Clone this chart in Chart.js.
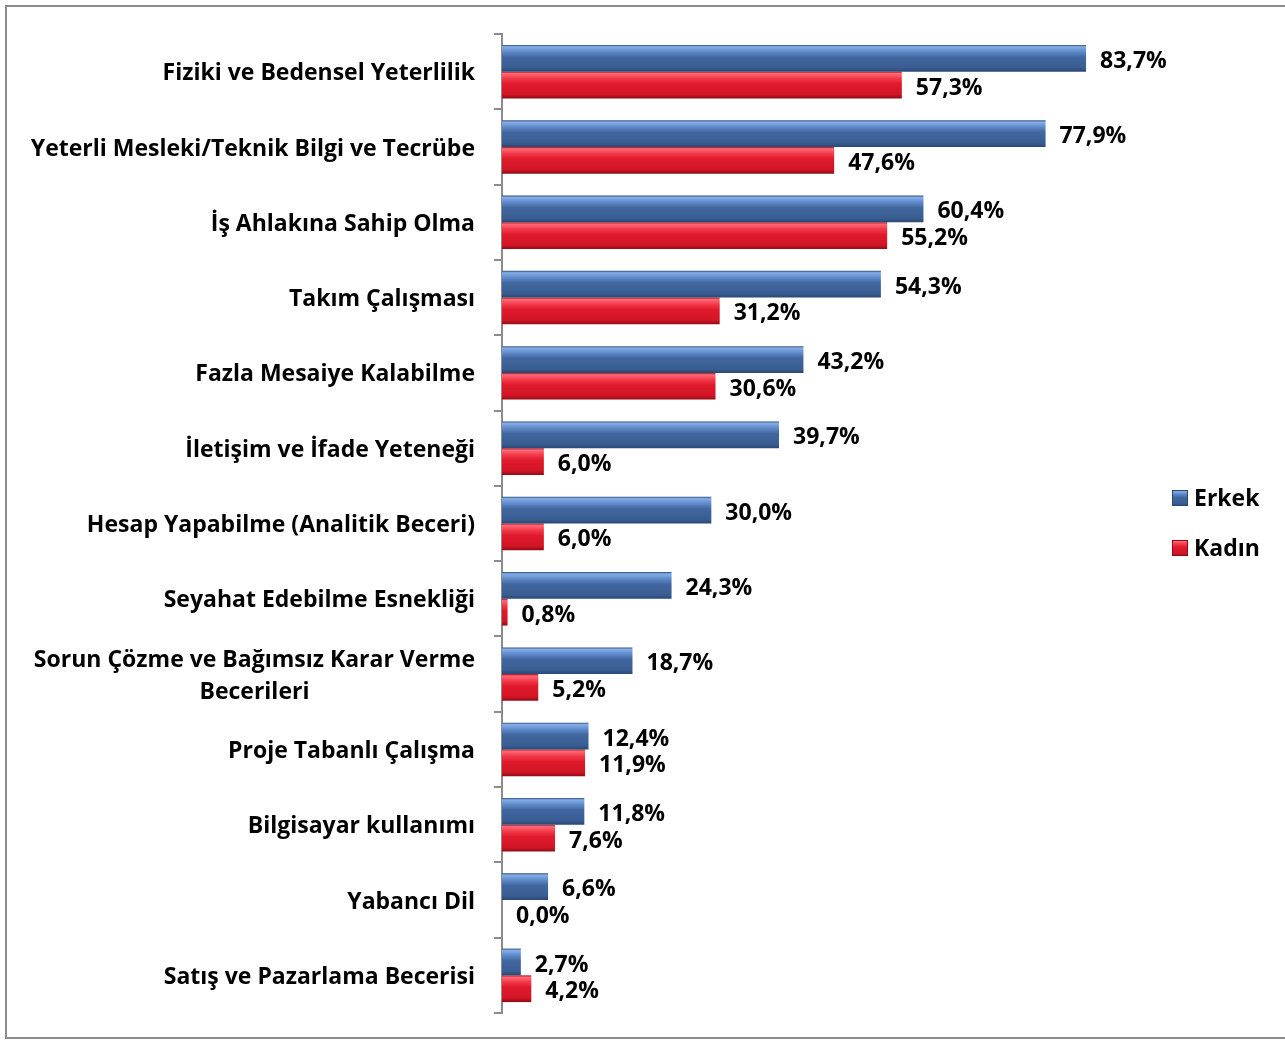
<!DOCTYPE html>
<html>
<head>
<meta charset="utf-8">
<script src="https://cdn.jsdelivr.net/npm/chart.js@4"></script>
<style>
  body { margin: 0; background: #fff; }
  #wrap { position: absolute; left: 0; top: 0; width: 1285px; height: 1042px; }
  #frame { position: absolute; left: 5px; top: 5px; width: 1280px; height: 1034px; border: 2px solid #8c8c8c; border-right: none; box-sizing: border-box; pointer-events: none; }
</style>
</head>
<body>
<div id="wrap">
  <canvas id="chart" width="1285" height="1042"></canvas>
  <div id="frame"></div>
</div>
<script>
// categories (top to bottom)
const categories = [
  'Fiziki ve Bedensel Yeterlilik',
  'Yeterli Mesleki/Teknik Bilgi ve Tecrübe',
  'İş Ahlakına Sahip Olma',
  'Takım Çalışması',
  'Fazla Mesaiye Kalabilme',
  'İletişim ve İfade Yeteneği',
  'Hesap Yapabilme (Analitik Beceri)',
  'Seyahat Edebilme Esnekliği',
  ['Sorun Çözme ve Bağımsız Karar Verme', 'Becerileri'],
  'Proje Tabanlı Çalışma',
  'Bilgisayar kullanımı',
  'Yabancı Dil',
  'Satış ve Pazarlama Becerisi'
];
const seriesNames = ['Erkek', 'Kadın'];
const erkek = [83.7, 77.9, 60.4, 54.3, 43.2, 39.7, 30.0, 24.3, 18.7, 12.4, 11.8, 6.6, 2.7];
const kadin = [57.3, 47.6, 55.2, 31.2, 30.6, 6.0, 6.0, 0.8, 5.2, 11.9, 7.6, 0.0, 4.2];

const FONT = '"Open Sans"';
const FONT_SIZE = 23;
const CAT_PCT = 0.71;

function barGradient(ctx, top, bottom, stops) {
  const g = ctx.createLinearGradient(0, top, 0, bottom);
  stops.forEach(s => g.addColorStop(s[0], s[1]));
  return g;
}
const blueStops = [[0, '#2c4f80'], [0.07, '#86ade6'], [0.25, '#5f8bcb'], [0.45, '#41679f'], [0.85, '#395d92'], [1, '#2a4772']];
const redStops = [[0, '#a8101c'], [0.07, '#ff6a78'], [0.25, '#f33a4a'], [0.45, '#e01a2c'], [0.85, '#d21525'], [1, '#8e0c16']];

// gradient follows each bar, placed with the y scale
function scriptedColor(stops, dsIndex) {
  return function(context) {
    const chart = context.chart;
    const y = chart.scales && chart.scales.y;
    if (!chart.chartArea || !y || context.dataIndex === undefined) return stops[3][1];
    const center = y.getPixelForValue(context.dataIndex);
    const band = Math.abs(y.getPixelForValue(1) - y.getPixelForValue(0));
    const h = band * CAT_PCT / 2;
    const top = dsIndex === 0 ? center - h : center;
    return barGradient(chart.ctx, top, top + h, stops);
  };
}

// value labels, category labels and legend
const extrasPlugin = {
  id: 'extras',
  afterDatasetsDraw(chart) {
    const ctx = chart.ctx;
    ctx.save();
    ctx.font = 'bold ' + FONT_SIZE + 'px ' + FONT;
    ctx.fillStyle = '#000';
    ctx.textBaseline = 'middle';
    ctx.textAlign = 'left';
    chart.data.datasets.forEach((ds, i) => {
      chart.getDatasetMeta(i).data.forEach((bar, j) => {
        const txt = ds.data[j].toFixed(1).replace('.', ',') + '%';
        ctx.fillText(txt, bar.x + 14, bar.y + 3);
      });
    });

    // category labels
    const yScale = chart.scales.y;
    const right = yScale.left - 19;
    chart.data.labels.forEach((lab, j) => {
      const cy = yScale.getPixelForValue(j) + 2;
      if (Array.isArray(lab)) {
        const w = Math.max(...lab.map(l => ctx.measureText(l).width));
        const cx = right - w / 2;
        const lh = 32;
        ctx.textAlign = 'center';
        lab.forEach((l, k) => {
          ctx.fillText(l, cx, cy + (k - (lab.length - 1) / 2) * lh);
        });
      } else {
        ctx.textAlign = 'right';
        ctx.fillText(lab, right, cy);
      }
    });

    // legend
    const lx = 1172, ly = [498, 548];
    chart.data.datasets.forEach((ds, i) => {
      const y = ly[i];
      const stops = i === 0 ? blueStops : redStops;
      ctx.fillStyle = barGradient(ctx, y - 8, y + 8, stops);
      ctx.fillRect(lx, y - 8, 16, 16);
      ctx.strokeStyle = i === 0 ? '#2a4772' : '#8e0c16';
      ctx.lineWidth = 1;
      ctx.strokeRect(lx + 0.5, y - 7.5, 15, 15);
      ctx.fillStyle = '#000';
      ctx.textAlign = 'left';
      ctx.fillText(ds.label, lx + 22, y + 1);
    });
    ctx.restore();
  }
};

new Chart(document.getElementById('chart').getContext('2d'), {
  type: 'bar',
  data: {
    labels: categories,
    datasets: [
      {
        label: seriesNames[0],
        data: erkek,
        backgroundColor: scriptedColor(blueStops, 0),
        borderWidth: 0,
        categoryPercentage: CAT_PCT,
        barPercentage: 1.0
      },
      {
        label: seriesNames[1],
        data: kadin,
        backgroundColor: scriptedColor(redStops, 1),
        borderWidth: 0,
        categoryPercentage: CAT_PCT,
        barPercentage: 1.0
      }
    ]
  },
  options: {
    indexAxis: 'y',
    responsive: false,
    animation: false,
    layout: { padding: { left: 494, top: 34, right: 155, bottom: 29 } },
    scales: {
      x: {
        min: 0,
        max: 90,
        display: false
      },
      y: {
        grid: { display: true, drawOnChartArea: false, offset: true, tickLength: 8, color: '#8c8c8c', lineWidth: 2 },
        border: { display: true, color: '#8c8c8c', width: 2 },
        ticks: { display: false }
      }
    },
    plugins: {
      legend: { display: false },
      tooltip: { enabled: false }
    }
  },
  plugins: [extrasPlugin]
});
</script>
</body>
</html>
